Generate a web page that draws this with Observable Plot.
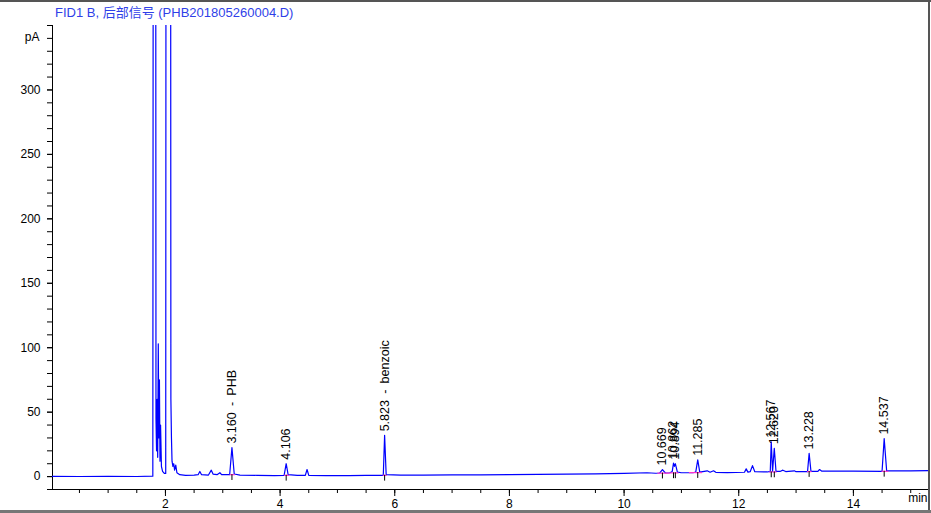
<!DOCTYPE html>
<html>
<head>
<meta charset="utf-8">
<script src="https://cdn.jsdelivr.net/npm/d3@7"></script>
<script src="https://cdn.jsdelivr.net/npm/@observablehq/plot@0.6"></script>
<style>
  html, body { margin: 0; padding: 0; background: #fff; }
  #wrap { position: relative; width: 931px; height: 513px; overflow: hidden; background: #fff; }
  #title { position: absolute; left: 55px; top: 2px; font: 13px "Liberation Sans", Arial, "Noto Sans CJK SC", sans-serif; color: #2f3fe8; white-space: nowrap; }
  #btop { position: absolute; left: 0; top: 0; width: 931px; height: 2px; background: #555; }
  #bright { position: absolute; left: 928px; top: 0; width: 2px; height: 513px; background: #555; }
  #bbottom { position: absolute; left: 0; top: 510px; width: 931px; height: 3px; background: #777; }
  svg { position: absolute; left: 0; top: 0; }
</style>
</head>
<body>
<div id="wrap">
  <div id="title">FID1 B, 后部信号 (PHB201805260004.D)</div>
</div>
<script>
// ---- Data ----
const traceTime = [
  0.03, 0.5, 1.0, 1.5, 1.78, 1.795, 1.81, 1.825, 1.835, 1.845, 1.855, 1.865, 1.875, 1.885, 1.895, 1.905, 1.915, 1.93, 1.95, 1.98,
  2.005, 2.015, 2.04, 2.07, 2.085, 2.095, 2.105, 2.115, 2.13, 2.145, 2.16, 2.18, 2.2, 2.25, 2.35, 2.5, 2.57, 2.6, 2.63, 2.75,
  2.8, 2.83, 2.9, 2.95, 2.98, 3.12, 3.16, 3.2, 3.3, 3.6, 3.9, 4.07, 4.106, 4.14, 4.3, 4.44, 4.47, 4.5, 4.8, 5.2,
  5.5, 5.8, 5.823, 5.85, 6.1, 6.5, 7.0, 7.5, 8.0, 8.5, 9.0, 9.5, 10.0, 10.4, 10.55, 10.62, 10.669, 10.72, 10.8, 10.84,
  10.862, 10.878, 10.894, 10.93, 11.0, 11.2, 11.25, 11.285, 11.32, 11.45, 11.5, 11.56, 11.6, 11.8, 12.1, 12.13, 12.16, 12.2, 12.24, 12.28,
  12.5, 12.55, 12.567, 12.59, 12.62, 12.65, 12.72, 12.77, 12.82, 12.97, 13.0, 13.2, 13.228, 13.26, 13.38, 13.41, 13.45, 14.0, 14.5, 14.537,
  14.58, 15.0, 15.31
];
const traceSignal = [
  0.2, 0.1, 0.2, 0.1, 0.3, 1000, 1000, 1000, 45, 20, 60, 15, 103, 30, 75, 12, 40, 8, 4, 2.5,
  2.5, 1000, 1000, 1000, 1000, 60, 30, 12, 8, 10, 5, 9, 3, 1.5, 1, 1.2, 1.5, 4, 1.5, 1.2,
  5, 2, 1.5, 3, 1.5, 1.5, 22.5, 2, 1.2, 1, 0.8, 1, 10, 1.5, 1, 1, 5.5, 1, 0.8, 0.8,
  0.9, 1, 32, 1.5, 1.2, 1.2, 1.3, 1.4, 1.6, 1.8, 2.0, 2.2, 2.5, 3.0, 2.6, 2.8, 5.5, 2.8, 3.0, 4,
  10.5, 8, 10, 3.5, 3, 3, 3.5, 13, 3.5, 4.5, 3.4, 4.5, 3.3, 3.1, 3.4, 6, 3.5, 3.8, 8.5, 3.8,
  3.6, 4, 27, 4, 22, 4, 4, 5, 3.9, 4.5, 3.8, 3.9, 18, 4, 4, 5.5, 4.2, 4.2, 4.1, 29.5,
  4.5, 4.5, 4.6
];

const peakRT     = [3.160, 4.106, 5.823, 10.669, 10.862, 10.894, 11.285, 12.567, 12.620, 13.228, 14.537];
const peakLabel  = ["3.160\u2002-\u2002PHB", "4.106", "5.823\u2002-\u2002benzoic", "10.669", "10.862", "10.894", "11.285", "12.567", "12.620", "13.228", "14.537"];
const peakHeight = [22.5, 10, 32, 5.5, 10.5, 10, 13, 27, 22, 18, 29.5];
const peakBase   = [1.5, 1, 1, 2.7, 2.9, 2.9, 3.1, 3.6, 3.6, 3.9, 4.1];
const baseStart  = [3.12, 4.07, 5.79, 10.58, 10.80, 10.86, 11.13, 12.53, 12.59, 13.19, 14.49];
const baseEnd    = [3.21, 4.16, 5.86, 10.80, 10.86, 10.95, 11.36, 12.59, 12.66, 13.27, 14.61];

const yMajor = [0, 50, 100, 150, 200, 250, 300];
const yMinor = d3.range(-10, 351, 10);
const xMajor = [2, 4, 6, 8, 10, 12, 14];
const xMinor = d3.range(0.5, 15.31, 0.5);

// ---- Build tables ----
const trace = traceTime.map((t, i) => ({t, s: traceSignal[i]}));
const peaks = peakRT.map((rt, i) => ({rt, label: peakLabel[i], h: peakHeight[i], base: peakBase[i], x1: baseStart[i], x2: baseEnd[i]}));

const font = '"Liberation Sans", Arial, "Noto Sans CJK SC", sans-serif';

const chart = Plot.plot({
  width: 931,
  height: 513,
  marginLeft: 52,
  marginRight: 3,
  marginTop: 25,
  marginBottom: 24,
  x: {domain: [0.03, 15.31]},
  y: {domain: [-10, 350]},
  style: {fontFamily: font, fontSize: "12px", background: "transparent", color: "black"},
  marks: [
    Plot.axisY(yMinor, {tickSize: 5, tickFormat: () => "", label: null}),
    Plot.axisY(yMajor, {tickSize: 5, tickPadding: 7, tickFormat: d => String(d), label: null, fontSize: 12}),
    Plot.axisX(xMinor, {tickSize: 4, tickFormat: () => "", label: null}),
    Plot.axisX(xMajor, {tickSize: 7, tickPadding: 3, tickFormat: d => String(d), label: null, fontSize: 12}),
    Plot.ruleX([0.03], {stroke: "black"}),
    Plot.ruleY([-10], {stroke: "black"}),
    Plot.text(["pA"], {frameAnchor: "top-left", dx: -13, dy: 7, textAnchor: "end", fontSize: 12}),
    Plot.text(["min"], {frameAnchor: "bottom-right", dx: -1, dy: 12, textAnchor: "end", fontSize: 12}),
    Plot.line(trace, {x: "t", y: "s", stroke: "#0000ff", strokeWidth: 1.2, clip: true}),
    Plot.link(peaks, {x1: "x1", x2: "x2", y1: "base", y2: "base", stroke: "#ff33cc", strokeWidth: 1.2}),
    Plot.ruleX(peaks, {x: "rt", y1: "base", y2: d => d.base - 4.5, stroke: "black", strokeWidth: 1}),
    Plot.text(peaks, {x: "rt", y: "h", text: "label", rotate: -90, textAnchor: "start", dy: -4, fontSize: 12.5, fill: "black"})
  ]
});
document.getElementById("wrap").appendChild(chart);
["btop", "bright", "bbottom"].forEach(id => {
  const d = document.createElement("div");
  d.id = id;
  document.getElementById("wrap").appendChild(d);
});
</script>
</body>
</html>
